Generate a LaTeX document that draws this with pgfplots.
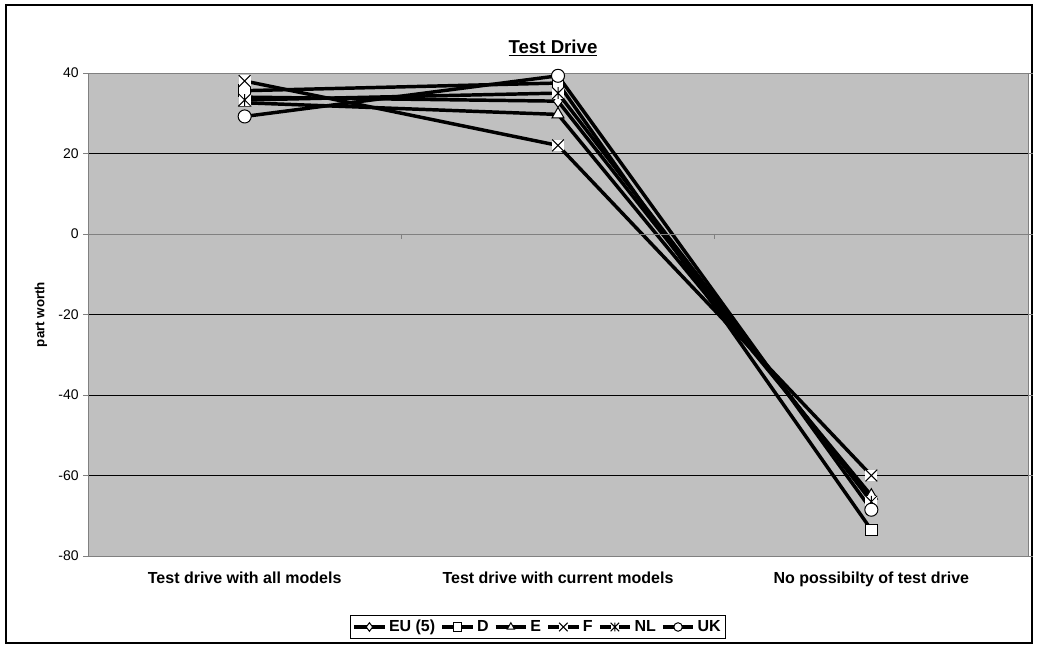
\documentclass[border=0pt]{standalone}
\usepackage{pgfplots}
\pgfplotsset{compat=1.18}
\usepackage{fontspec}
\setmainfont{Liberation Sans}
\definecolor{plotgray}{RGB}{192,192,192}
\definecolor{edgegray}{RGB}{128,128,128}
\pgfdeclareplotmark{xbox}{%
  \pgfpathrectangle{\pgfqpoint{-\pgfplotmarksize}{-\pgfplotmarksize}}{\pgfqpoint{2\pgfplotmarksize}{2\pgfplotmarksize}}%
  \pgfsetfillcolor{white}\pgfusepath{fill}%
  \pgfpathmoveto{\pgfqpoint{-\pgfplotmarksize}{-\pgfplotmarksize}}%
  \pgfpathlineto{\pgfqpoint{\pgfplotmarksize}{\pgfplotmarksize}}%
  \pgfpathmoveto{\pgfqpoint{-\pgfplotmarksize}{\pgfplotmarksize}}%
  \pgfpathlineto{\pgfqpoint{\pgfplotmarksize}{-\pgfplotmarksize}}%
  \pgfusepathqstroke}
\pgfdeclareplotmark{starbox}{%
  \pgfpathrectangle{\pgfqpoint{-\pgfplotmarksize}{-\pgfplotmarksize}}{\pgfqpoint{2\pgfplotmarksize}{2\pgfplotmarksize}}%
  \pgfsetfillcolor{white}\pgfusepath{fill}%
  \pgfpathmoveto{\pgfqpoint{-\pgfplotmarksize}{-\pgfplotmarksize}}%
  \pgfpathlineto{\pgfqpoint{\pgfplotmarksize}{\pgfplotmarksize}}%
  \pgfpathmoveto{\pgfqpoint{-\pgfplotmarksize}{\pgfplotmarksize}}%
  \pgfpathlineto{\pgfqpoint{\pgfplotmarksize}{-\pgfplotmarksize}}%
  \pgfpathmoveto{\pgfqpoint{0pt}{-\pgfplotmarksize}}%
  \pgfpathlineto{\pgfqpoint{0pt}{\pgfplotmarksize}}%
  \pgfusepathqstroke}
\begin{document}
\begin{tikzpicture}
\path[use as bounding box] (0,0) rectangle (778.5pt,486pt);
\draw[line width=1.5pt] (4.5pt,3.75pt) rectangle (774pt,482.25pt);
\begin{axis}[
  at={(66pt,69pt)}, anchor=south west,
  scale only axis, width=705pt, height=362.25pt,
  xmin=-0.5, xmax=2.5, ymin=-80, ymax=40,
  xtick={0,1,2},
  xticklabels={Test drive with all models, Test drive with current models, No possibilty of test drive},
  x tick label style={font=\bfseries\fontsize{12pt}{14pt}\selectfont, yshift=-5pt},
  major x tick style={draw=none},
  ytick={-80,-60,...,40},
  y tick label style={font=\fontsize{10.5pt}{12pt}\selectfont},
  /pgf/number format/assume math mode=true,
  tick align=outside, major tick length=3.5pt,
  ymajorgrids, grid style={black, line width=0.6pt},
  axis background/.style={fill=plotgray},
  axis line style={edgegray, line width=0.7pt},
  tick style={edgegray, line width=0.7pt},
  ylabel={part worth}, ylabel style={font=\bfseries\fontsize{10pt}{12pt}\selectfont, at={(axis description cs:-0.05,0.5)}, anchor=center},
  title={\underline{Test Drive}}, title style={font=\bfseries\fontsize{14pt}{16pt}\selectfont, at={(axis description cs:0.4947,1.035)}, anchor=center},
  legend columns=-1,
  legend style={at={(axis description cs:0.4787,-0.147)}, anchor=center, draw=black, line width=0.6pt, fill=white,
    font=\bfseries\fontsize{12pt}{14pt}\selectfont, inner sep=1.5pt,
    /tikz/every even column/.append style={column sep=2pt},
    /tikz/every odd column/.append style={column sep=0pt}},
  legend image code/.code={\draw[mark repeat=2, mark phase=2] plot coordinates {(0cm,0cm) (0.4cm,0cm) (0.8cm,0cm)};},
  legend image post style={line width=2.6pt, mark size=3.2pt},
  legend cell align=left,
  every axis plot/.append style={black, line width=2.6pt, mark size=4.6pt,
    mark options={solid, fill=white, draw=black, line width=0.75pt}},
  clip=false,
]
\addplot[mark=diamond*] coordinates {(0,34) (1,33) (2,-66)};
\addplot[mark=square*, mark size=4.3pt] coordinates {(0,35.6) (1,37.5) (2,-73.5)};
\addplot[mark=triangle*, mark size=5.2pt] coordinates {(0,32.6) (1,29.7) (2,-65)};
\addplot[mark=xbox, mark size=4.4pt] coordinates {(0,38) (1,22) (2,-60)};
\addplot[mark=starbox, mark size=4.4pt] coordinates {(0,33.3) (1,35) (2,-66.5)};
\addplot[mark=*, mark size=4.9pt] coordinates {(0,29.2) (1,39.3) (2,-68.5)};
\legend{EU (5), D, E, F, NL, UK}
\draw[edgegray, line width=0.7pt] (axis cs:-0.5,0) -- (axis cs:2.5,0);
\draw[edgegray, line width=0.7pt] (axis cs:0.5,0) -- ([yshift=-3.5pt]axis cs:0.5,0);
\draw[edgegray, line width=0.7pt] (axis cs:1.5,0) -- ([yshift=-3.5pt]axis cs:1.5,0);
\draw[edgegray, line width=0.7pt] (axis cs:2.5,0) -- ([yshift=-3.5pt]axis cs:2.5,0);
\end{axis}
\end{tikzpicture}
\end{document}
